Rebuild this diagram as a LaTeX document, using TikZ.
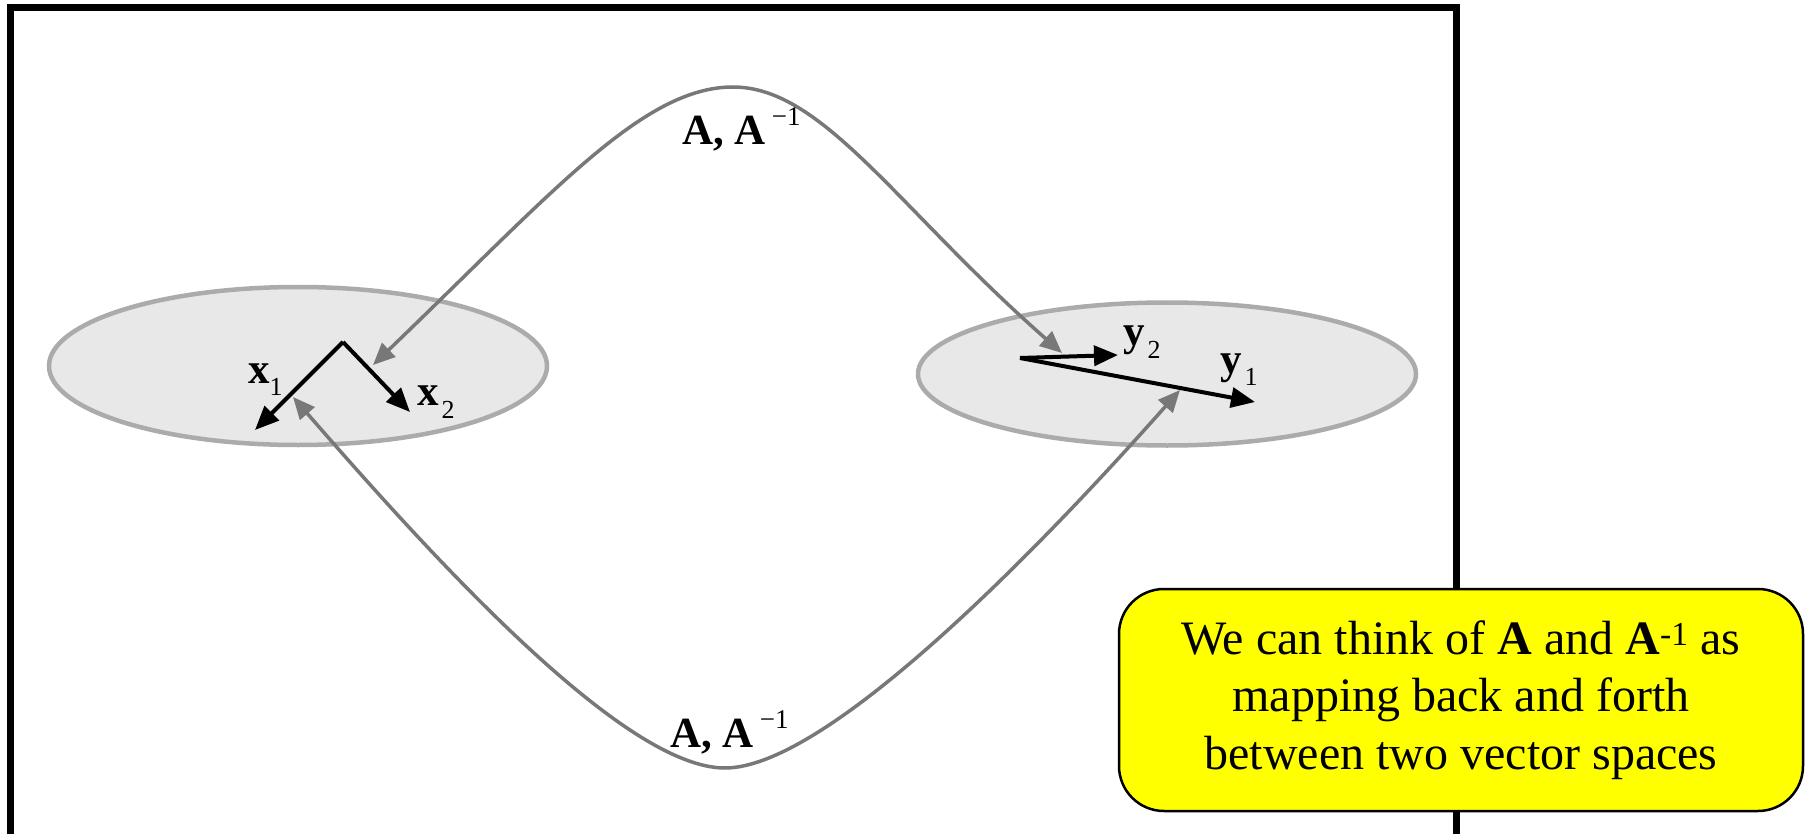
\documentclass[tikz,border=0pt]{standalone}
\usepackage{fontspec}
\setmainfont{Liberation Serif}
\usetikzlibrary{arrows.meta,shapes.geometric}
\definecolor{noteyellow}{RGB}{255,255,0}
\begin{document}
\begin{tikzpicture}[x=1pt,y=-1pt,
  space/.style={ellipse, draw=black!33, fill=black!9, line width=4.5pt, inner sep=0pt},
  vec/.style={line width=4pt, -{Triangle[length=24pt,width=20pt]}},
  mapcurve/.style={draw=black!53, line width=3.5pt, {Triangle[length=22pt,width=19pt]}-{Triangle[length=22pt,width=19pt]}},
  lab/.style={font=\fontsize{43}{50}\selectfont, inner sep=0pt},
  note/.style={draw=black, fill=noteyellow, line width=2.5pt, rounded corners=45pt, align=center,
    font=\fontsize{48}{57.5}\selectfont, inner sep=0pt},
]
\useasboundingbox (0,0) rectangle (1807,834);
\clip (0,0) rectangle (1807,834);
\fill[white] (0,0) rectangle (1807,834);
\draw[line width=7pt] (10,8) rectangle (1456,837);

% vector spaces
\node[space, minimum width=498pt, minimum height=158pt] (X) at (298,366) {};
\node[space, minimum width=498pt, minimum height=143pt] (Y) at (1167,374) {};

% x vectors
\coordinate (xo) at (343,342);
\coordinate (x1t) at (255,430);
\coordinate (x2t) at (410,412);
\draw[vec] (xo) -- (x1t);
\draw[vec] (xo) -- (x2t);
\node[lab, anchor=base west] (x1) at (248,383) {\textbf{x}\raisebox{-12pt}{\fontsize{26}{26}\selectfont 1}};
\node[lab, anchor=base west] (x2) at (417,405) {\textbf{x}\kern3pt\raisebox{-13pt}{\fontsize{26}{26}\selectfont 2}};

% y vectors
\coordinate (yo) at (1020,358);
\coordinate (y1t) at (1255,402);
\coordinate (y2t) at (1118,355);
\draw[vec] (yo) -- (y1t);
\draw[vec] (yo) -- (y2t);
\node[lab, anchor=base west] (y2) at (1123,345) {\textbf{y}\kern3pt\raisebox{-13pt}{\fontsize{26}{26}\selectfont 2}};
\node[lab, anchor=base west] (y1) at (1220,373) {\textbf{y}\kern3pt\raisebox{-13pt}{\fontsize{26}{26}\selectfont 1}};

% mapping curves
\coordinate (tl) at (373,365);
\coordinate (tr) at (1062,353);
\coordinate (peak) at (733,87);
\coordinate (bl) at (293,397);
\coordinate (br) at (1180,390);
\coordinate (trough) at (725,768);
\draw[mapcurve] (tl) .. controls (553,192) and (643,87) .. (peak)
  .. controls (823,87) and (897,208) .. (tr);
\draw[mapcurve] (bl) .. controls (457,586) and (630,768) .. (trough)
  .. controls (820,768) and (1014,577) .. (br);

\node[lab, anchor=base west] (topA) at (682,145) {\textbf{A, A}\kern6pt\raisebox{19pt}{\fontsize{27}{27}\selectfont −1}};
\node[lab, anchor=base west] (botA) at (670,747) {\textbf{A, A}\kern6pt\raisebox{19pt}{\fontsize{27}{27}\selectfont −1}};

% note
\node[note, minimum width=684pt, minimum height=222pt] (note) at (1461,700)
  {We can think of \textbf{A} and \textbf{A}\textsuperscript{-1} as\\ mapping back and forth\\ between two vector spaces};
\end{tikzpicture}
\end{document}
